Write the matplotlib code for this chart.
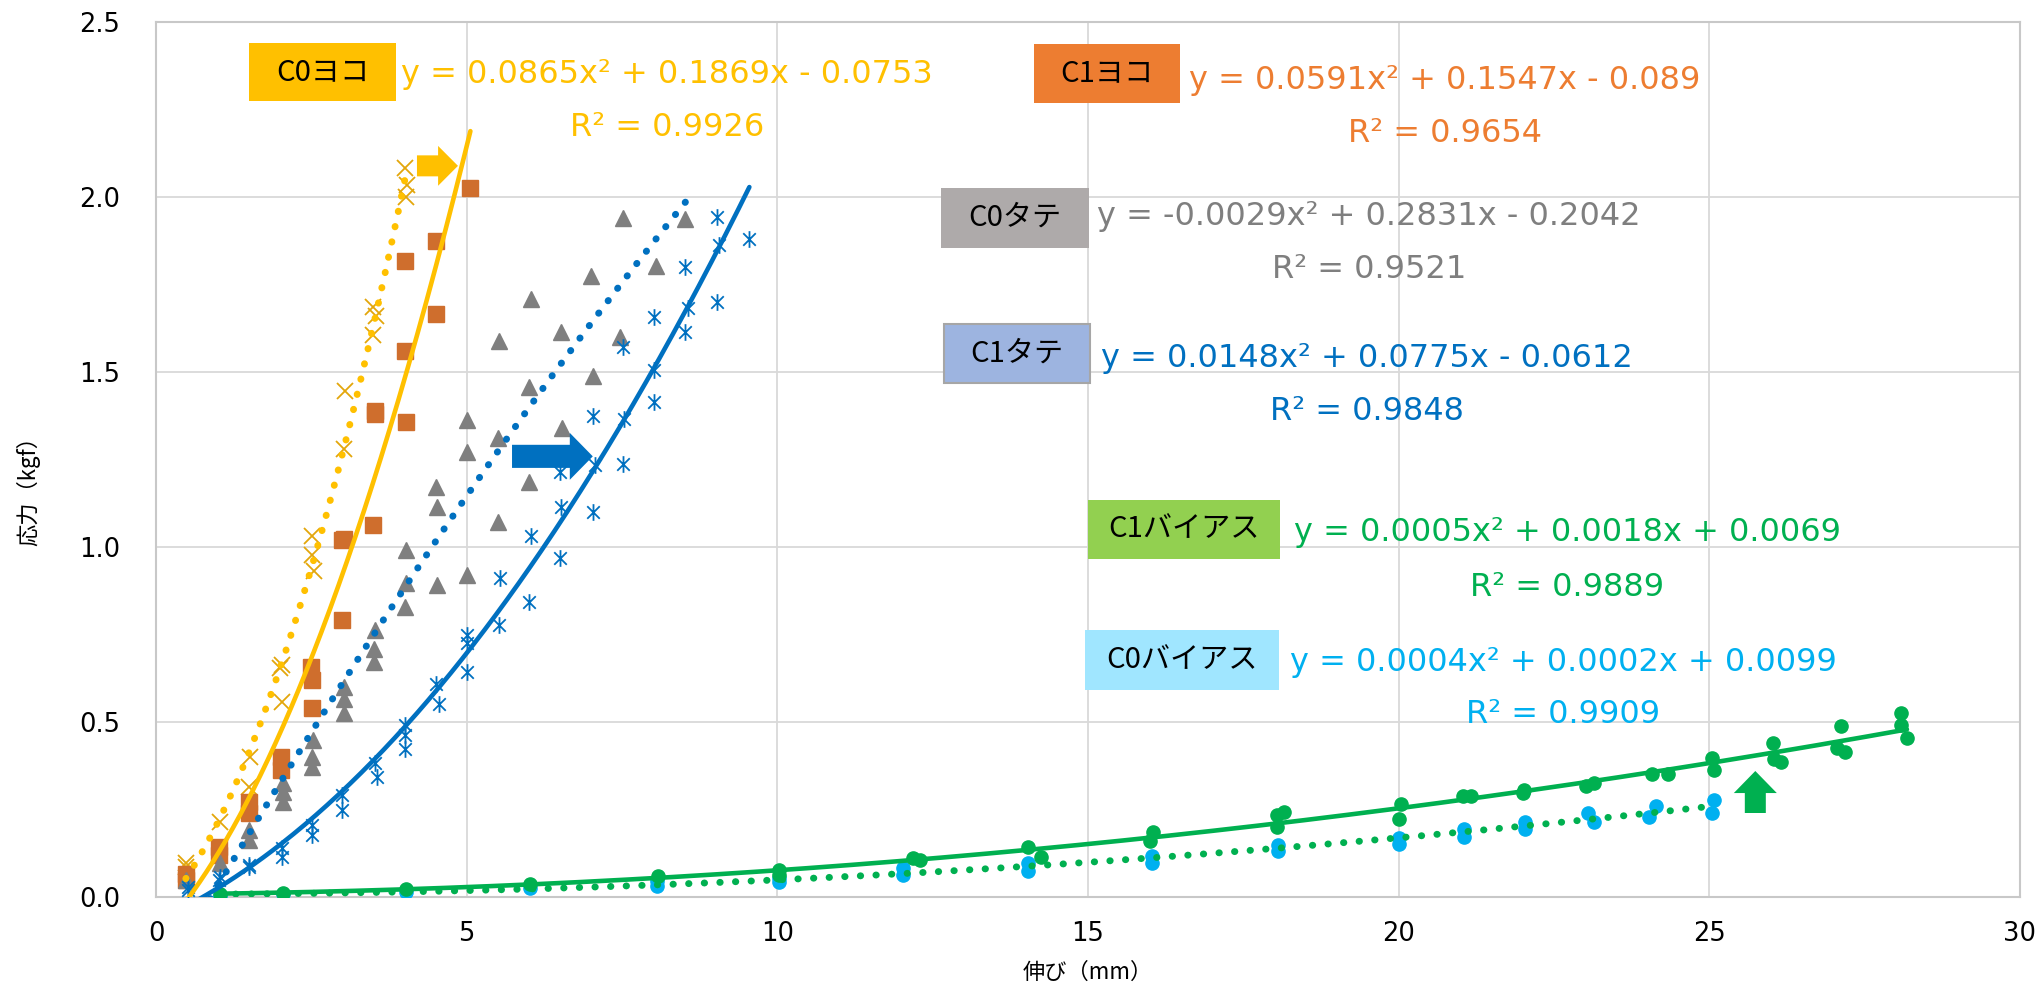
import numpy as np
import matplotlib
matplotlib.use('Agg')
import matplotlib.pyplot as plt
from matplotlib.path import Path
from matplotlib.patches import Rectangle, Polygon

plt.rcParams['font.family'] = ['DejaVu Sans', 'Noto Sans CJK JP']

# データ ----------------------------------------------------------------------
# C0ヨコ (x)
c0yoko_x = [0.48, 0.49, 1.03, 1.49, 1.51, 2.02, 2.00, 2.02, 2.51, 2.51, 2.55,
            3.02, 3.04, 3.50, 3.54, 3.50, 4.01, 4.04, 4.03]
c0yoko_y = [0.096, 0.087, 0.215, 0.315, 0.400, 0.663, 0.655, 0.558, 1.030, 0.977, 0.930,
            1.279, 1.447, 1.687, 1.660, 1.606, 2.082, 2.034, 2.000]
# C1ヨコ (■)
c1yoko_x = [0.49, 0.49, 1.02, 1.02, 1.50, 1.50, 2.01, 2.01, 2.50, 2.51, 2.51,
            3.02, 3.00, 3.00, 3.52, 3.52, 3.50, 4.01, 4.01, 4.02, 4.51, 4.51, 5.06]
c1yoko_y = [0.067, 0.050, 0.144, 0.120, 0.272, 0.239, 0.400, 0.363, 0.658, 0.620, 0.539,
            1.022, 1.020, 0.791, 1.389, 1.380, 1.063, 1.817, 1.561, 1.357, 1.873, 1.666, 2.027]
# C0タテ (▲)
c0tate_x = [0.49, 1.03, 1.50, 1.50, 2.04, 2.04, 2.04, 2.52, 2.51, 2.51, 3.02, 3.02, 3.02,
            3.53, 3.51, 3.51, 4.02, 4.02, 4.01, 4.51, 4.52, 4.52, 5.00, 5.01, 5.00,
            5.51, 5.52, 5.51, 6.03, 6.00, 6.00, 6.52, 6.53, 7.00, 7.03, 7.46, 7.52, 8.04, 8.52]
c0tate_y = [0.050, 0.096, 0.191, 0.163, 0.325, 0.300, 0.272, 0.449, 0.400, 0.372, 0.600, 0.566, 0.527,
            0.763, 0.710, 0.672, 0.991, 0.896, 0.830, 1.172, 1.115, 0.891, 1.364, 1.272, 0.920,
            1.310, 1.589, 1.072, 1.708, 1.456, 1.186, 1.613, 1.339, 1.774, 1.489, 1.600, 1.941, 1.804, 1.937]
# C1タテ (*)
c1tate_x = [0.52, 0.52, 1.03, 1.02, 1.50, 1.50, 2.02, 2.02, 2.51, 2.51, 3.00, 3.00,
            3.53, 3.55, 4.01, 4.00, 4.01, 4.51, 4.55, 5.01, 5.00, 5.01, 5.54, 5.52,
            6.01, 6.04, 6.51, 6.52, 6.51, 7.03, 7.03, 7.07, 7.51, 7.54, 7.51,
            8.01, 8.01, 8.01, 8.56, 8.51, 8.52, 9.03, 9.06, 9.03, 9.55]
c1tate_y = [0.030, 0.020, 0.058, 0.050, 0.091, 0.087, 0.139, 0.115, 0.206, 0.177, 0.291, 0.248,
            0.382, 0.343, 0.491, 0.464, 0.422, 0.610, 0.551, 0.749, 0.725, 0.644, 0.910, 0.777,
            0.844, 1.032, 1.215, 1.115, 0.968, 1.375, 1.101, 1.234, 1.572, 1.365, 1.237,
            1.656, 1.506, 1.415, 1.684, 1.615, 1.799, 1.944, 1.863, 1.701, 1.879]
# C1バイアス (●)
c1bias_x = [1.03, 2.05, 4.03, 6.02, 8.08, 10.03, 10.03, 12.19, 12.30, 14.04, 14.24,
            16.05, 16.00, 18.04, 18.16, 18.04, 20.03, 20.01, 21.04, 21.17, 22.02, 22.00,
            23.02, 23.14, 24.07, 24.33, 25.05, 25.07, 26.03, 26.04, 26.15,
            27.12, 27.06, 27.18, 28.09, 28.08, 28.18]
c1bias_y = [0.009, 0.012, 0.022, 0.037, 0.061, 0.076, 0.063, 0.112, 0.107, 0.143, 0.114,
            0.186, 0.160, 0.233, 0.244, 0.200, 0.267, 0.223, 0.290, 0.290, 0.306, 0.296,
            0.317, 0.326, 0.352, 0.352, 0.397, 0.363, 0.439, 0.393, 0.387,
            0.489, 0.425, 0.415, 0.525, 0.491, 0.455]
# C0バイアス (●)
c0bias_x = [1.03, 2.05, 4.03, 6.02, 8.06, 8.06, 10.02, 10.02, 12.03, 12.03, 14.03, 14.03,
            16.03, 16.03, 18.05, 18.05, 20.01, 20.01, 21.05, 21.05, 22.03, 22.03,
            23.04, 23.14, 24.14, 24.03, 25.08, 25.05]
c0bias_y = [0.003, 0.008, 0.015, 0.026, 0.045, 0.032, 0.055, 0.043, 0.082, 0.062, 0.098, 0.075,
            0.118, 0.098, 0.148, 0.132, 0.170, 0.152, 0.195, 0.172, 0.215, 0.195,
            0.239, 0.214, 0.260, 0.228, 0.278, 0.240]

eq_c0yoko = ['y = 0.0865x² + 0.1869x - 0.0753', 'R² = 0.9926']
eq_c1yoko = ['y = 0.0591x² + 0.1547x - 0.089', 'R² = 0.9654']
eq_c0tate = ['y = -0.0029x² + 0.2831x - 0.2042', 'R² = 0.9521']
eq_c1tate = ['y = 0.0148x² + 0.0775x - 0.0612', 'R² = 0.9848']
eq_c1bias = ['y = 0.0005x² + 0.0018x + 0.0069', 'R² = 0.9889']
eq_c0bias = ['y = 0.0004x² + 0.0002x + 0.0099', 'R² = 0.9909']

x_ticks = [0, 5, 10, 15, 20, 25, 30]
y_ticks = [0.0, 0.5, 1.0, 1.5, 2.0, 2.5]

# 図 -------------------------------------------------------------------------
W, H = 2040, 997
fig = plt.figure(figsize=(W / 100, H / 100), dpi=100)
ax = fig.add_axes([156 / W, 1 - 897 / H, (2020 - 156) / W, (897 - 22) / H])


def fx(px):
    return px / W


def fy(py):
    return 1 - py / H


star = Path([(0, -1), (0, 1), (-0.75, -0.75), (0.75, 0.75), (-0.75, 0.75), (0.75, -0.75)],
            [Path.MOVETO, Path.LINETO, Path.MOVETO, Path.LINETO, Path.MOVETO, Path.LINETO])

ax.plot(c0yoko_x, c0yoko_y, ls='none', marker='x', ms=11, mew=1.3, color='#E3A60B', zorder=3)
ax.plot(c1yoko_x, c1yoko_y, ls='none', marker='s', ms=12, color='#CF6E2D', zorder=3)
ax.plot(c0tate_x, c0tate_y, ls='none', marker='^', ms=11, color='#7F7F7F', zorder=3)
ax.plot(c1tate_x, c1tate_y, ls='none', marker=star, ms=12, mew=1.3, color='#0070C0', zorder=3)
ax.plot(c0bias_x, c0bias_y, ls='none', marker='o', ms=9.5, color='#00B0F0', zorder=3)
ax.plot(c1bias_x, c1bias_y, ls='none', marker='o', ms=9.5, color='#00B050', zorder=3)

dotted = (0, (0.05, 2.2))


# 多項式近似 (2次) - Excelの近似曲線と同じく最小二乗
def trend(xs, ys, color, style):
    coef = np.polyfit(xs, ys, 2)
    xx = np.linspace(min(xs), max(xs), 300)
    yy = np.polyval(coef, xx)
    if style == 'dot':
        ax.plot(xx, yy, color=color, lw=5, ls=dotted, dash_capstyle='round', zorder=4)
    else:
        ax.plot(xx, yy, color=color, lw=3.3, solid_capstyle='round', zorder=4)


trend(c0yoko_x, c0yoko_y, '#FFC000', 'dot')
trend(c1yoko_x, c1yoko_y, '#FFC000', 'solid')
trend(c0tate_x, c0tate_y, '#0070C0', 'dot')
trend(c1tate_x, c1tate_y, '#0070C0', 'solid')
trend(c0bias_x, c0bias_y, '#00B050', 'dot')
trend(c1bias_x, c1bias_y, '#00B050', 'solid')


# 矢印
def arrow_right(x0, x1, x2, yc, hs, hh, color):
    pts = [(x0, yc - hs), (x1, yc - hs), (x1, yc - hh), (x2, yc), (x1, yc + hh), (x1, yc + hs), (x0, yc + hs)]
    ax.add_patch(Polygon(pts, closed=True, color=color, lw=0, zorder=5))


arrow_right(4.20, 4.54, 4.86, 2.089, 0.030, 0.057, '#FFC000')
arrow_right(5.73, 6.66, 7.03, 1.259, 0.033, 0.067, '#0070C0')
xc, hs, hh = 25.74, 0.169, 0.346
ax.add_patch(Polygon([(xc - hs, 0.24), (xc - hs, 0.297), (xc - hh, 0.297), (xc, 0.36),
                      (xc + hh, 0.297), (xc + hs, 0.297), (xc + hs, 0.24)],
                     closed=True, color='#00B050', lw=0, zorder=5))

# 軸
ax.set_xlim(0, 30)
ax.set_ylim(0, 2.5)
ax.set_xticks(x_ticks)
ax.set_yticks(y_ticks)
ax.set_xticklabels([str(t) for t in x_ticks])
ax.set_yticklabels([f'{t:.1f}' for t in y_ticks])
ax.tick_params(length=0, labelsize=18.5, colors='black')
ax.tick_params(axis='x', pad=17)
ax.tick_params(axis='y', pad=26)
ax.grid(color='#D9D9D9', lw=1.3, zorder=0)
ax.set_axisbelow(True)
for s in ax.spines.values():
    s.set_color('#C8C8C8')
    s.set_linewidth(1.5)

fig.text(fx(1088), fy(972), '伸び（mm）', ha='center', va='center', fontsize=16,
         family=['Noto Sans CJK JP'])
fig.text(fx(28), fy(485), '応力（kgf）', ha='center', va='center', rotation=90, fontsize=16,
         family=['Noto Sans CJK JP'])

# ラベル
boxes = [('C0ヨコ', (249, 43, 396, 101), '#FFC000', 'none'),
         ('C1ヨコ', (1034, 44, 1180, 103), '#ED7D31', 'none'),
         ('C0タテ', (941, 188, 1089, 248), '#AEAAAA', 'none'),
         ('C1タテ', (944, 324, 1090, 383), '#9DB4E0', '#A6A6A6'),
         ('C1バイアス', (1088, 500, 1280, 559), '#92D050', 'none'),
         ('C0バイアス', (1085, 630, 1279, 690), '#A0E6FF', 'none')]
for name, (x0, y0, x1, y1), fc, ec in boxes:
    ax.add_patch(Rectangle((fx(x0), fy(y1)), fx(x1) - fx(x0), fy(y0) - fy(y1), transform=fig.transFigure,
                           facecolor=fc, edgecolor=ec, lw=1.5, clip_on=False, zorder=6))
    ax.text(fx((x0 + x1) / 2), fy((y0 + y1) / 2), name, transform=fig.transFigure, ha='center', va='center',
            fontsize=21, family=['Noto Sans CJK JP'], color='black', zorder=7)

eqs = [(eq_c0yoko, 667, 75, 127, '#FFC000'),
       (eq_c1yoko, 1445, 80, 134, '#ED7D31'),
       (eq_c0tate, 1369, 217, 270, '#7F7F7F'),
       (eq_c1tate, 1367, 358, 412, '#0070C0'),
       (eq_c1bias, 1567, 533, 587, '#00B050'),
       (eq_c0bias, 1563, 662, 714, '#00B0F0')]
for (l1, l2), xcen, ya, yb, col in eqs:
    fig.text(fx(xcen), fy(ya), l1, ha='center', va='center', fontsize=23, color=col)
    fig.text(fx(xcen), fy(yb), l2, ha='center', va='center', fontsize=23, color=col)

fig.savefig('out.png', dpi=100)
